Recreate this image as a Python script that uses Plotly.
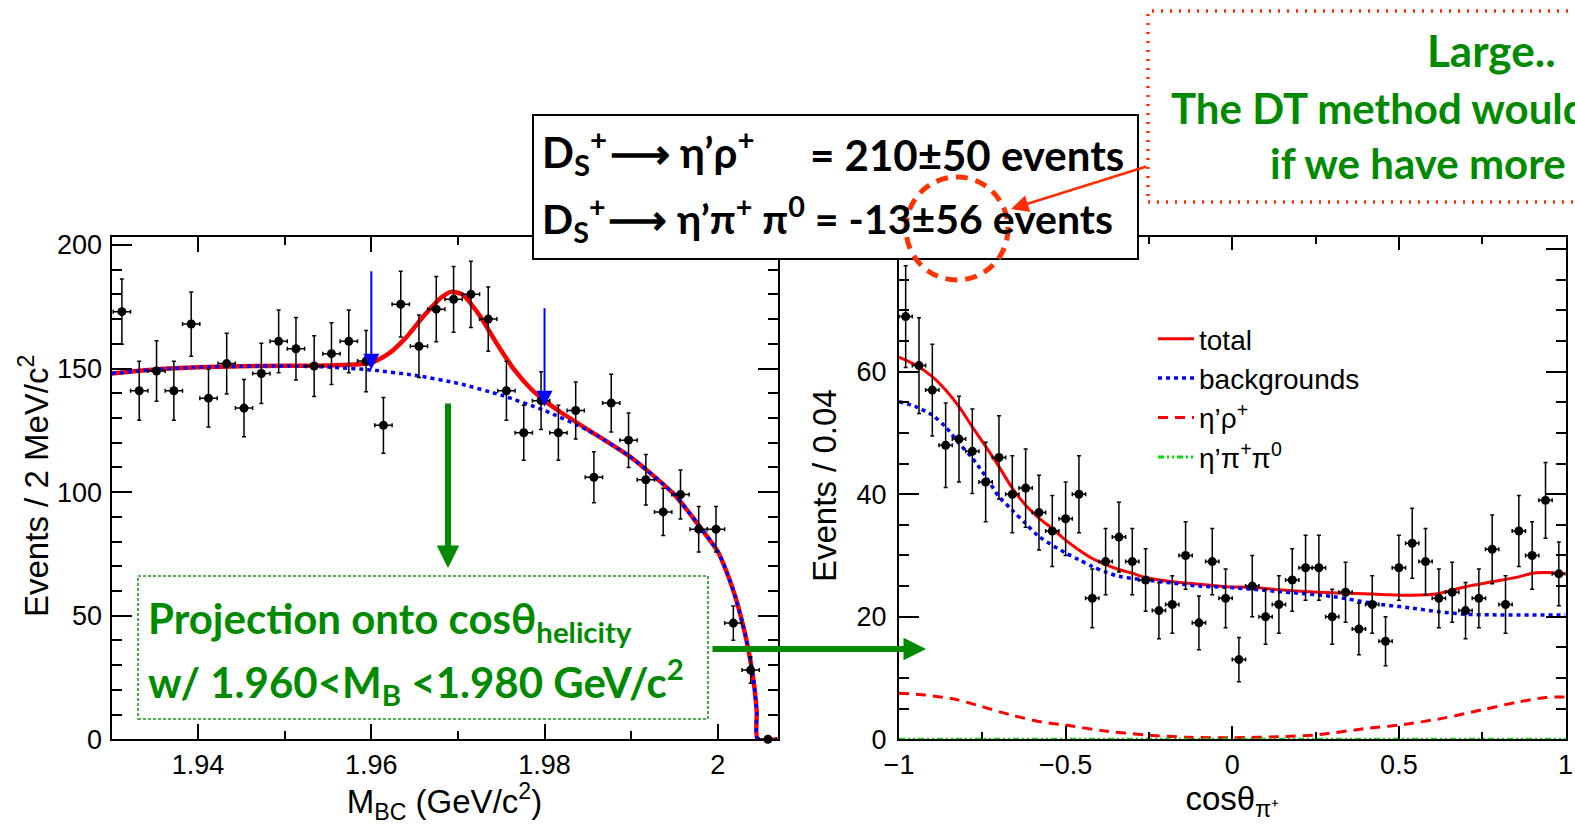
import plotly.graph_objects as go

# ---------------- data: left panel (M_BC) ----------------
mbc_x = [1.9312, 1.9332, 1.9352, 1.9372, 1.9392, 1.9412, 1.9433, 1.9453, 1.9473, 1.9493,
         1.9513, 1.9534, 1.9554, 1.9574, 1.9594, 1.9614, 1.9634, 1.9655, 1.9675, 1.9695,
         1.9715, 1.9735, 1.9756, 1.9776, 1.9796, 1.9816, 1.9836, 1.9857, 1.9877, 1.9897,
         1.9917, 1.9937, 1.9957, 1.9978, 1.9998, 2.0018, 2.0038, 2.0058]
mbc_y = [173, 141, 149, 141, 168, 138, 152, 134, 148, 161,
         158, 151, 156, 161, 153, 127, 176, 159, 174, 178,
         180, 170, 141, 124, 137, 124, 133, 106, 136, 121,
         105, 92, 99, 85, 85, 47, 28, 0]
mbc_err = [13.2, 11.9, 12.2, 11.9, 13.0, 11.7, 12.3, 11.6, 12.2, 12.7,
           12.6, 12.3, 12.5, 12.7, 12.4, 11.3, 13.3, 12.6, 13.2, 13.3,
           13.4, 13.0, 11.9, 11.1, 11.7, 11.1, 11.5, 10.3, 11.7, 11.0,
           10.2, 9.6, 9.9, 9.2, 9.2, 6.9, 5.3, 0.0]

mbc_tot_x = [1.9300, 1.9350, 1.9400, 1.9450, 1.9500, 1.9550, 1.9580, 1.9600, 1.9620, 1.9640,
             1.9660, 1.9680, 1.9692, 1.9705, 1.9725, 1.9745, 1.9765, 1.9785, 1.9800, 1.9820,
             1.9850, 1.9900, 1.9950, 1.9975, 2.0000, 2.0010, 2.0020, 2.0030, 2.0035, 2.0040,
             2.0043, 2.0045, 2.0046, 2.0069]
mbc_tot_y = [148.0, 149.6, 150.5, 150.9, 151.1, 151.2, 151.6, 152.3, 156.0, 162.5,
             171.0, 178.5, 181.0, 180.0, 171.5, 160.0, 149.5, 141.5, 137.0, 132.0,
             125.3, 114.0, 99.0, 88.0, 76.0, 68.0, 58.0, 45.0, 37.0, 27.0,
             19.0, 11.0, 0.0, 0.0]
mbc_bkg_x = [1.9300, 1.9350, 1.9400, 1.9450, 1.9500, 1.9550, 1.9600, 1.9650, 1.9700, 1.9750,
             1.9800, 1.9850, 1.9900, 1.9950, 1.9975, 2.0000, 2.0010, 2.0020, 2.0030, 2.0035,
             2.0040, 2.0043, 2.0045, 2.0046, 2.0069]
mbc_bkg_y = [148.0, 149.6, 150.5, 150.9, 151.0, 150.6, 149.4, 147.3, 144.0, 139.2,
             133.0, 125.0, 114.0, 99.0, 88.0, 76.0, 68.0, 58.0, 45.0, 37.0,
             27.0, 19.0, 11.0, 0.0, 0.0]

# signal window markers (blue arrows)
window_x = [1.960, 1.980]
window_tip = [149.5, 134.5]
window_tail = [190.0, 175.0]

# ---------------- data: right panel (cos theta) ----------------
cos_x = [-0.98, -0.94, -0.90, -0.86, -0.82, -0.78, -0.74, -0.70, -0.66, -0.62,
         -0.58, -0.54, -0.50, -0.46, -0.42, -0.38, -0.34, -0.30, -0.26, -0.22,
         -0.18, -0.14, -0.10, -0.06, -0.02, 0.02, 0.06, 0.10, 0.14, 0.18,
         0.22, 0.26, 0.30, 0.34, 0.38, 0.42, 0.46, 0.50, 0.54, 0.58,
         0.62, 0.66, 0.70, 0.74, 0.78, 0.82, 0.86, 0.90, 0.94, 0.98]
cos_y = [69, 61, 57, 48, 49, 47, 42, 46, 40, 41,
         37, 34, 36, 40, 23, 29, 33, 29, 26, 21,
         22, 30, 19, 29, 23, 13, 25, 20, 22, 26,
         28, 28, 20, 24, 18, 22, 16, 28, 32, 29,
         23, 24, 21, 23, 31, 22, 34, 30, 39, 27]
cos_err = [8.3, 7.8, 7.5, 6.9, 7.0, 6.9, 6.5, 6.8, 6.3, 6.4,
           6.1, 5.8, 6.0, 6.3, 4.8, 5.4, 5.7, 5.4, 5.1, 4.6,
           4.7, 5.5, 4.4, 5.4, 4.8, 3.6, 5.0, 4.5, 4.7, 5.1,
           5.3, 5.3, 4.5, 4.9, 4.2, 4.7, 4.0, 5.3, 5.7, 5.4,
           4.8, 4.9, 4.6, 4.8, 5.6, 4.7, 5.8, 5.5, 6.2, 5.2]

cos_tot_x = [-1.00, -0.95, -0.90, -0.86, -0.82, -0.78, -0.74, -0.70, -0.66, -0.62,
             -0.58, -0.54, -0.50, -0.46, -0.42, -0.38, -0.34, -0.30, -0.26, -0.18,
             -0.10, -0.02, 0.06, 0.14, 0.22, 0.30, 0.38, 0.46, 0.54, 0.62,
             0.70, 0.78, 0.86, 0.90, 0.94, 1.00]
cos_tot_y = [62.4, 61.1, 59.2, 57.0, 54.3, 51.0, 47.8, 44.5, 41.0, 38.2,
             36.1, 34.4, 32.5, 30.9, 29.5, 28.5, 27.7, 27.1, 26.4, 25.7,
             25.3, 24.9, 24.8, 24.4, 24.1, 23.9, 23.8, 23.6, 23.5, 23.8,
             24.9, 25.7, 26.5, 27.1, 27.2, 27.0]
cos_bkg_x = [-1.00, -0.95, -0.90, -0.86, -0.82, -0.78, -0.74, -0.70, -0.66, -0.62,
             -0.58, -0.50, -0.46, -0.42, -0.38, -0.34, -0.26, -0.18, -0.10, -0.02,
             0.06, 0.14, 0.30, 0.42, 0.54, 0.62, 0.70, 0.78, 1.00]
cos_bkg_y = [55.1, 54.3, 52.9, 51.0, 48.3, 45.9, 42.9, 39.6, 37.4, 35.2,
             33.1, 30.4, 29.3, 28.2, 27.3, 26.6, 26.0, 25.5, 25.0, 24.8,
             24.5, 24.1, 23.3, 22.2, 21.4, 20.8, 20.4, 20.3, 20.3]
cos_rho_x = [-1.00, -0.92, -0.83, -0.75, -0.66, -0.57, -0.50, -0.39, -0.26, -0.13,
             0.00, 0.14, 0.25, 0.41, 0.50, 0.63, 0.75, 0.86, 0.94, 1.00]
cos_rho_y = [7.5, 7.2, 6.5, 5.3, 3.9, 2.8, 2.3, 1.4, 0.7, 0.3,
             0.25, 0.4, 0.7, 1.8, 2.3, 3.4, 4.8, 6.1, 6.8, 6.9]
cos_pipi_x = [-1.0, -0.5, 0.0, 0.5, 1.0]
cos_pipi_y = [0.0, 0.0, 0.0, 0.0, 0.0]

# tick labels
mbc_tickvals = [1.94, 1.96, 1.98, 2.00]
mbc_ticktext = ["1.94", "1.96", "1.98", "2"]
cos_ytickvals = [0, 20, 40, 60, 80]
cos_yticktext = ["0", "20", "40", "60", ""]   # the 80 label is hidden behind the box

# ---------------- styling helpers ----------------
W, H = 1575, 825
def px(v):
    return v / W
def py(v):
    return 1 - v / H

RED = "#ff0000"
BLUE = "#0000ff"
GREEN_TXT = "#008a00"
ROOT_FONT = "Liberation Sans, Arial, sans-serif"
SLIDE_FONT = "Lato, Open Sans, sans-serif"
TITLE_SIZE = 33

fig = go.Figure()

# ---- left panel traces ----
fig.add_trace(go.Scatter(x=mbc_tot_x, y=mbc_tot_y, mode="lines", xaxis="x", yaxis="y",
                         line=dict(color=RED, width=4.5, shape="spline", smoothing=0.6),
                         showlegend=False, hoverinfo="skip"))
fig.add_trace(go.Scatter(x=mbc_bkg_x, y=mbc_bkg_y, mode="lines", xaxis="x", yaxis="y",
                         line=dict(color=BLUE, width=3.5, dash="4px,4px", shape="spline", smoothing=0.6),
                         showlegend=False, hoverinfo="skip"))
fig.add_trace(go.Scatter(x=mbc_x, y=mbc_y, mode="markers", xaxis="x", yaxis="y",
                         marker=dict(color="black", size=9),
                         error_y=dict(type="data", array=mbc_err, color="black", thickness=1.5, width=2),
                         error_x=dict(type="constant", value=0.001, color="black", thickness=1.5, width=2),
                         cliponaxis=False, showlegend=False))

# ---- right panel traces ----
fig.add_trace(go.Scatter(x=cos_tot_x, y=cos_tot_y, mode="lines", xaxis="x2", yaxis="y2",
                         name="total", legendgroup="a", legendrank=1,
                         line=dict(color=RED, width=3, shape="spline", smoothing=0.8)))
fig.add_trace(go.Scatter(x=cos_rho_x, y=cos_rho_y, mode="lines", xaxis="x2", yaxis="y2",
                         name="η’ρ<sup>+</sup>", legendgroup="c", legendrank=3,
                         line=dict(color=RED, width=3, dash="10px,7px", shape="spline", smoothing=0.8)))
fig.add_trace(go.Scatter(x=cos_pipi_x, y=cos_pipi_y, mode="lines", xaxis="x2", yaxis="y2",
                         name="η’π<sup>+</sup>π<sup>0</sup>", legendgroup="d", legendrank=4,
                         line=dict(color="#00dd00", width=3, dash="6px,3px,2px,3px,2px,3px")))
fig.add_trace(go.Scatter(x=cos_bkg_x, y=cos_bkg_y, mode="lines", xaxis="x2", yaxis="y2",
                         name="backgrounds", legendgroup="b", legendrank=2,
                         line=dict(color=BLUE, width=3.5, dash="4px,4px", shape="spline", smoothing=0.8)))
fig.add_trace(go.Scatter(x=cos_x, y=cos_y, mode="markers", xaxis="x2", yaxis="y2",
                         marker=dict(color="black", size=9),
                         error_y=dict(type="data", array=cos_err, color="black", thickness=1.5, width=2),
                         error_x=dict(type="constant", value=0.02, color="black", thickness=1.5, width=2),
                         cliponaxis=False, showlegend=False))

axis_common = dict(showline=True, linewidth=2, linecolor="black", mirror="ticks", automargin=False,
                   ticks="inside", tickwidth=2, tickcolor="black", showgrid=False, zeroline=False,
                   tickfont=dict(family=ROOT_FONT, size=27, color="black"),
                   title_font=dict(family=ROOT_FONT, size=TITLE_SIZE, color="black"))

fig.update_layout(
    width=W, height=H, margin=dict(l=0, r=0, t=0, b=0, autoexpand=False),
    paper_bgcolor="white", plot_bgcolor="white",
    xaxis=dict(domain=[px(111.5), px(777.5)], range=[1.93, 2.0069], anchor="y",
               tickmode="array", tickvals=mbc_tickvals, ticktext=mbc_ticktext,
               ticklen=15, ticklabelstandoff=0,
               minor=dict(dtick=0.01, tick0=1.93, ticklen=8, tickwidth=2, tickcolor="black", ticks="inside"),
               title=dict(text="M<sub>BC</sub> (GeV/c<sup>2</sup>)", standoff=7), **axis_common),
    yaxis=dict(domain=[py(739.3), py(237)], range=[0, 203.2], anchor="x",
               tick0=0, dtick=50, ticklen=20, ticklabelstandoff=2,
               minor=dict(dtick=10, tick0=0, ticklen=10, tickwidth=2, tickcolor="black", ticks="inside"),
               **axis_common),
    xaxis2=dict(domain=[px(899), px(1565.5)], range=[-1, 1], anchor="y2",
                tick0=-1, dtick=0.5, ticklen=13, ticklabelstandoff=0,
                minor=dict(dtick=0.25, tick0=-1, ticklen=7, tickwidth=2, tickcolor="black", ticks="inside"),
                title=dict(text="cosθ<sub>π⁺</sub>", standoff=5), **axis_common),
    yaxis2=dict(domain=[py(739.2), py(237)], range=[0, 82], anchor="x2",
                tickmode="array", tickvals=cos_ytickvals, ticktext=cos_yticktext,
                ticklen=20, ticklabelstandoff=5,
                minor=dict(dtick=5, tick0=0, ticklen=10, tickwidth=2, tickcolor="black", ticks="inside"),
                **axis_common),
    legend=dict(x=px(1153), y=py(314), xanchor="left", yanchor="top", itemwidth=36,
                bgcolor="rgba(0,0,0,0)", borderwidth=0, traceorder="grouped", tracegroupgap=0,
                font=dict(family=ROOT_FONT, size=28, color="black")),
)

shapes = [
    # summary box
    dict(type="rect", xref="paper", yref="paper", x0=px(533), x1=px(1138), y0=py(259), y1=py(115),
         line=dict(color="black", width=2), fillcolor="white", layer="above"),
    # red dotted comment box
    dict(type="rect", xref="paper", yref="paper", x0=px(1148), x1=px(1600), y0=py(202), y1=py(11),
         line=dict(color="#ff2d00", width=3.5, dash="2px,7px"), fillcolor="rgba(0,0,0,0)", layer="above"),
    # green dotted projection box
    dict(type="rect", xref="paper", yref="paper", x0=px(138), x1=px(708), y0=py(719), y1=py(576),
         line=dict(color="#1a9a1a", width=1.6, dash="3px,2px"), fillcolor="white", layer="above"),
    # red dashed circle
    dict(type="circle", xref="paper", yref="paper", x0=px(906), x1=px(1008), y0=py(280), y1=py(177),
         line=dict(color="#ff3300", width=5, dash="12px,8px"), layer="above"),
]
fig.update_layout(shapes=shapes)

ann = []
# y-axis titles (rotated)
ann.append(dict(xref="paper", yref="paper", x=px(34), y=py(486), xanchor="center", yanchor="middle",
                text="Events / 2 MeV/c<sup>2</sup>", textangle=-90, showarrow=False,
                font=dict(family=ROOT_FONT, size=TITLE_SIZE, color="black")))
ann.append(dict(xref="paper", yref="paper", x=px(824), y=py(486), xanchor="center", yanchor="middle",
                text="Events / 0.04", textangle=-90, showarrow=False,
                font=dict(family=ROOT_FONT, size=TITLE_SIZE, color="black")))
# blue signal-window arrows (data coordinates)
for wx, tip, tail in zip(window_x, window_tip, window_tail):
    ann.append(dict(xref="x", yref="y", axref="x", ayref="y", x=wx, y=tip, ax=wx, ay=tail,
                    text="", showarrow=True, arrowhead=2, arrowsize=1.6, arrowwidth=2,
                    arrowcolor=BLUE, standoff=0))
# green arrows
ann.append(dict(xref="paper", yref="paper", x=px(448), y=py(568), ax=0, ay=-166, text="",
                showarrow=True, arrowhead=2, arrowsize=0.75, arrowwidth=6, arrowcolor=GREEN_TXT, standoff=0))
ann.append(dict(xref="paper", yref="paper", x=px(926), y=py(649), ax=-215, ay=0, text="",
                showarrow=True, arrowhead=2, arrowsize=0.75, arrowwidth=6, arrowcolor=GREEN_TXT, standoff=0))
# red pointer arrow
ann.append(dict(xref="paper", yref="paper", x=px(1011), y=py(209), ax=137, ay=-43, text="",
                showarrow=True, arrowhead=2, arrowsize=1.4, arrowwidth=2.5, arrowcolor="#ff2d00", standoff=0))

def txt(x, y, s, color="black", size=42, family=SLIDE_FONT, bold=True):
    return dict(xref="paper", yref="paper", x=px(x), y=py(y), xanchor="left", yanchor="middle",
                text=("<b>%s</b>" % s) if bold else s, showarrow=False,
                font=dict(family=family, size=size, color=color))

ann += [
    txt(540, 152, "D<sub>S</sub><sup>+</sup>\u200a⟶ η’ρ<sup>+</sup>"),
    txt(808, 155, "= 210±50 events"),
    txt(540, 219, "D<sub>S</sub><sup>+</sup>\u200a⟶ η’π<sup>+</sup> π<sup>0</sup> = -13±56 events", size=41),
    txt(1425, 50, "Large..", GREEN_TXT, size=44),
    txt(1169, 108, "The DT method would", GREEN_TXT),
    txt(1268, 163, "if we have more", GREEN_TXT),
    txt(146, 621, "Projection onto cosθ<sub>helicity</sub>", GREEN_TXT),
    txt(146, 681, "w/ 1.960&lt;M<sub>B</sub> &lt;1.980 GeV/c<sup>2</sup>", GREEN_TXT),
]
fig.update_layout(annotations=ann)

fig.write_html("out.html")
